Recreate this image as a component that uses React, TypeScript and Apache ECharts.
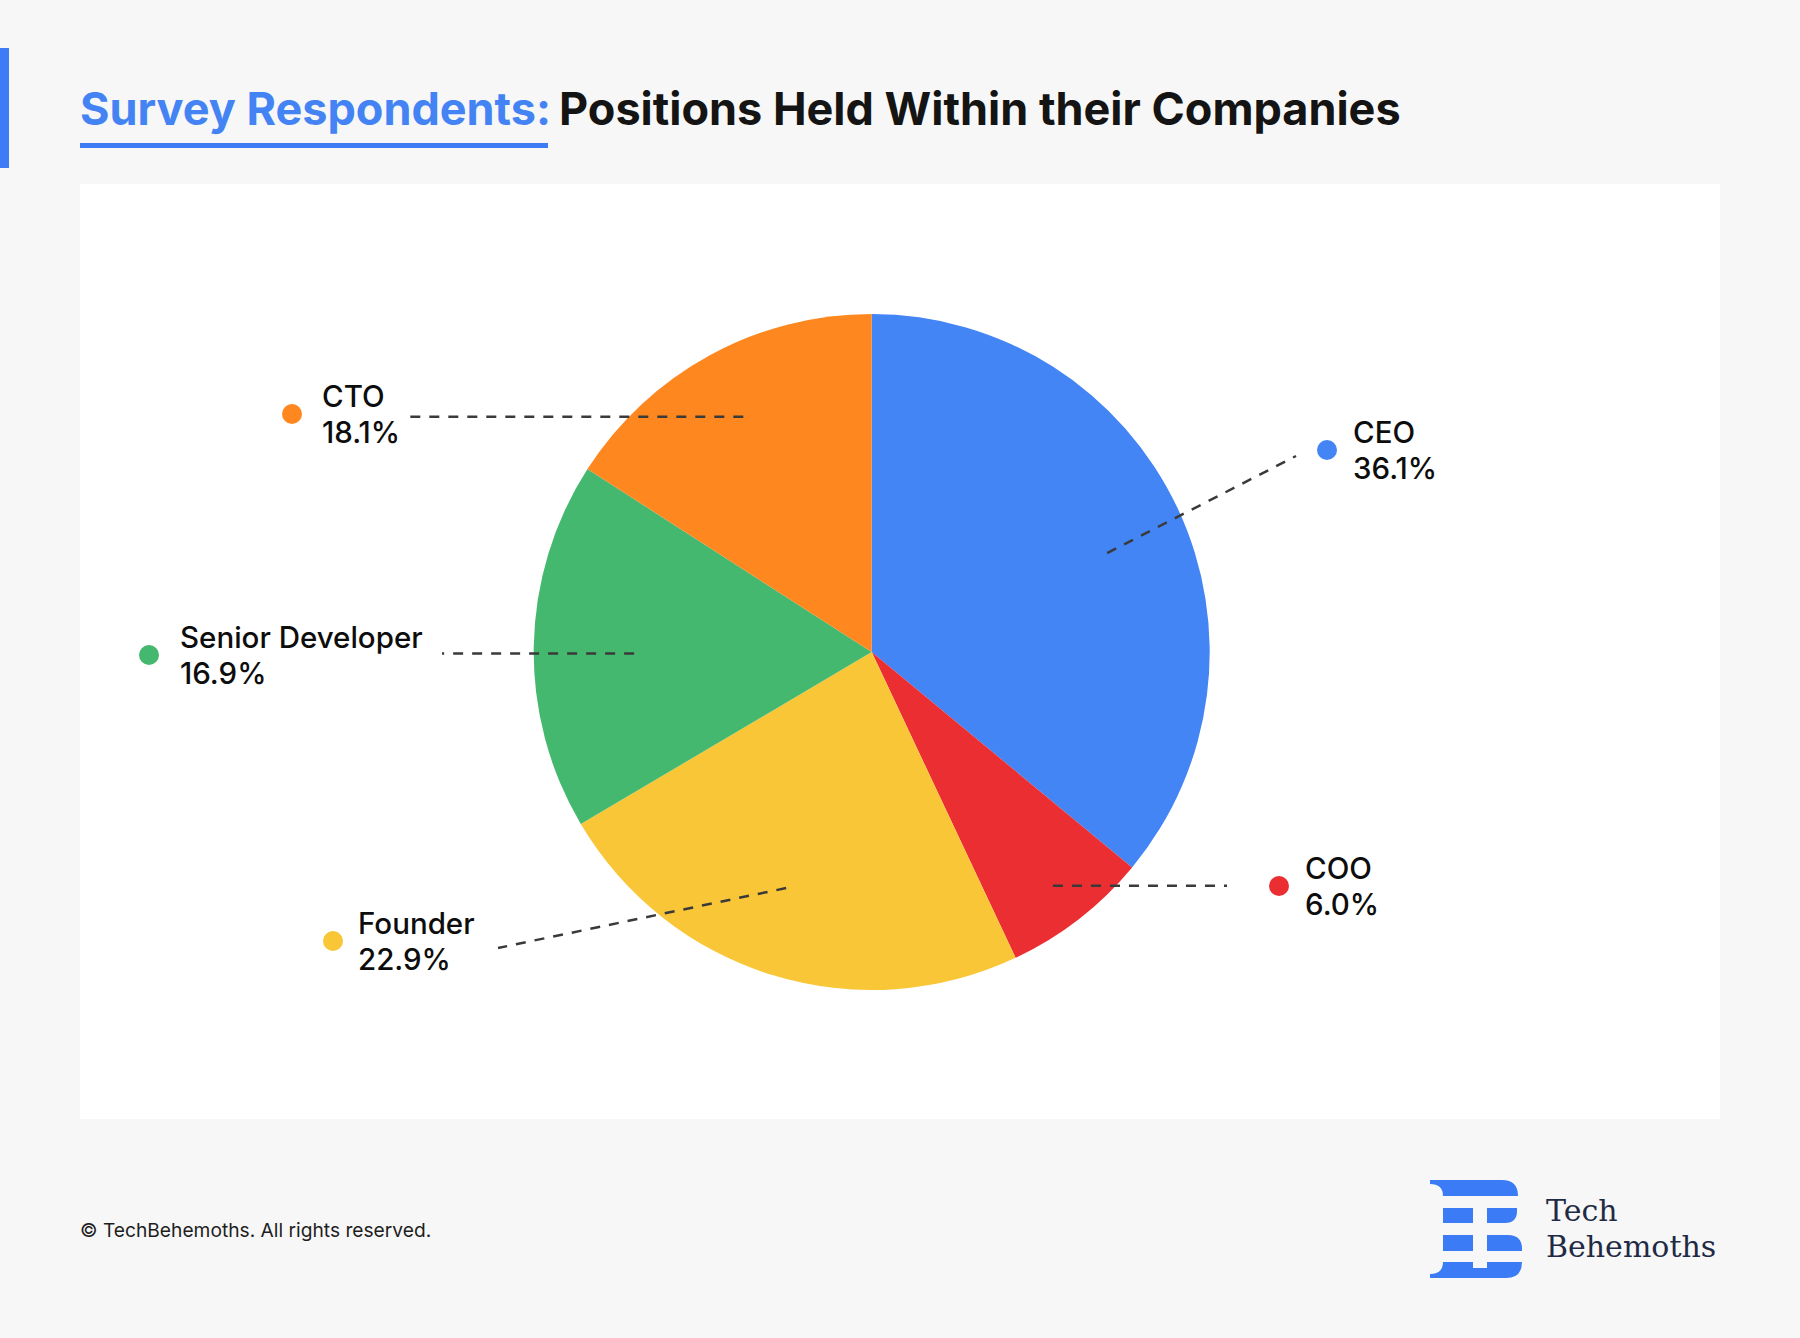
import React, { useEffect, useRef } from 'react';
import * as echarts from 'echarts';

// ---------------- data ----------------
const categories = ['CEO', 'COO', 'Founder', 'Senior Developer', 'CTO'];
// shares as drawn
const sliceShares = [36.0, 7.0, 23.5, 17.6, 15.9];
// percentages as printed in the labels
const printedPercents = [36.1, 6.0, 22.9, 16.9, 18.1];
const sliceColors = ['#4385F5', '#EA2E31', '#F9C638', '#45B86F', '#FE871F'];

const titleLead = 'Survey Respondents:';
const titleRest = 'Positions Held Within their Companies';
const footerText = '\u00A9 TechBehemoths. All rights reserved.';
const logoWords = ['Tech', 'Behemoths'];

// ---------------- layout (not data) ----------------
const CX = 871.7;
const CY = 652;
const R = 338;

type Placement = {
  textX: number; cy: number; dotX: number; k: number;
  adx: number; ady: number; endX: number; endY: number | null;
};
const labelPlacement: Placement[] = [
  { textX: 1353, cy: 450, dotX: 1327, k: 0.757, adx: 4, ady: 10, endX: 1296, endY: 456 },
  { textX: 1305, cy: 886, dotX: 1279, k: 0.875, adx: 0, ady: 0, endX: 1227, endY: null },
  { textX: 358, cy: 941, dotX: 333, k: 0.74, adx: -12, ady: -3, endX: 498, endY: 948 },
  { textX: 180, cy: 655, dotX: 149, k: 0.703, adx: 0, ady: 6, endX: 442, endY: null },
  { textX: 322, cy: 414, dotX: 292, k: 0.793, adx: 0, ady: 0, endX: 404, endY: null },
];

const LOGO_D =
  'M0 0 H72 Q88 0 88 16 H13 Q13 4 0 4 Z ' +
  'M13 28 H43 V43 H13 Z M57 28 H87 V31 Q87 43 75 43 H57 Z ' +
  'M13 55 H43 V71 H13 Z M57 55 H78 Q92 55 92 69 V71 H57 Z ' +
  'M0 98 H76 Q92 98 92 82 H57 V88 H43 V82 H13 Q13 94 0 94 Z';

let logoRegistered = false;
function ensureLogo() {
  if (logoRegistered) return;
  echarts.graphic.registerShape('tbLogo', echarts.graphic.extendPath(LOGO_D, {}) as any);
  logoRegistered = true;
}

function edgePoint(params: any, i: number): number[] {
  const p = params.labelLinePoints && params.labelLinePoints[0];
  if (p) return [p[0], p[1]];
  const total = sliceShares.reduce((a, b) => a + b, 0);
  let acc = 0;
  for (let j = 0; j < i; j++) acc += sliceShares[j];
  const mid = ((acc + sliceShares[i] / 2) / total) * Math.PI * 2;
  return [CX + R * Math.sin(mid), CY - R * Math.cos(mid)];
}

export default function App() {
  const ref = useRef<HTMLDivElement>(null);

  useEffect(() => {
    document.body.style.margin = '0';
    ensureLogo();
    if (!ref.current) return;
    const chart = echarts.init(ref.current, null, { renderer: 'svg' });

    const labelFont = 'Inter';
    const labelSize = 29.5;
    const dotRich: Record<string, any> = {};
    sliceColors.forEach((c, i) => {
      dotRich['d' + i] = { width: 20, height: 20, borderRadius: 10, backgroundColor: c };
    });

    const option: any = {
      animation: false,
      backgroundColor: '#F7F7F7',
      graphic: [
        { type: 'rect', z: 0, shape: { x: 80, y: 184, width: 1640, height: 935 }, style: { fill: '#FFFFFF' } },
        { type: 'rect', z: 1, shape: { x: 0, y: 48, width: 9, height: 120 }, style: { fill: '#3D7CF6' } },
        {
          type: 'text', z: 1, x: 80, y: 108,
          style: { text: titleLead, fontFamily: 'Inter', fontWeight: 700, fontSize: 45, fill: '#4383F3', verticalAlign: 'middle', align: 'left' },
        },
        { type: 'rect', z: 1, shape: { x: 80, y: 143, width: 468, height: 5 }, style: { fill: '#3D7CF6' } },
        {
          type: 'text', z: 1, x: 559, y: 108,
          style: { text: titleRest, fontFamily: 'Inter', fontWeight: 700, fontSize: 45, fill: '#141414', verticalAlign: 'middle', align: 'left' },
        },
        {
          type: 'text', z: 1, x: 80, y: 1230,
          style: { text: footerText, fontFamily: 'Inter', fontSize: 19.2, fill: '#1E1E1E', verticalAlign: 'middle', align: 'left' },
        },
        { type: 'tbLogo', z: 1, x: 1430, y: 1180, scaleX: 1, scaleY: 1, style: { fill: '#3B7BF6' } },
        {
          type: 'text', z: 1, x: 1546, y: 1210,
          style: { text: logoWords[0], fontFamily: 'DejaVu Serif', fontSize: 30, fill: '#1F2A44', verticalAlign: 'middle', align: 'left' },
        },
        {
          type: 'text', z: 1, x: 1546, y: 1246,
          style: { text: logoWords[1], fontFamily: 'DejaVu Serif', fontSize: 30, fill: '#1F2A44', verticalAlign: 'middle', align: 'left' },
        },
      ],
      series: [
        {
          type: 'pie',
          z: 2,
          center: [CX, CY],
          radius: [0, R],
          startAngle: 90,
          clockwise: true,
          avoidLabelOverlap: false,
          silent: true,
          emphasis: { disabled: true },
          data: categories.map((name, i) => ({ name, value: sliceShares[i], itemStyle: { color: sliceColors[i] } })),
          label: {
            show: true,
            position: 'outside',
            formatter: (p: any) => `{n|${p.name}}\n{v|${printedPercents[p.dataIndex].toFixed(1)}%}`,
            rich: {
              n: { fontFamily: labelFont, fontWeight: 500, fontSize: labelSize, lineHeight: 36, color: '#0D0D0D' },
              v: { fontFamily: labelFont, fontWeight: 500, fontSize: labelSize, lineHeight: 36, color: '#0D0D0D' },
            },
          },
          labelLine: { show: false },
          labelLayout: (p: any) => {
            const L = labelPlacement[p.dataIndex];
            return { x: L.textX, y: L.cy, align: 'left', verticalAlign: 'middle' };
          },
        },
        {
          type: 'pie',
          z: 3,
          center: [CX, CY],
          radius: [0, R],
          startAngle: 90,
          clockwise: true,
          avoidLabelOverlap: false,
          silent: true,
          emphasis: { disabled: true },
          itemStyle: { color: 'rgba(0,0,0,0)', borderWidth: 0 },
          data: categories.map((name, i) => ({ name, value: sliceShares[i] })),
          label: {
            show: true,
            position: 'outside',
            formatter: (p: any) => `{d${p.dataIndex}|}`,
            rich: dotRich,
          },
          labelLine: {
            show: true,
            smooth: false,
            lineStyle: { color: '#3A3A3A', width: 2.5, type: [10, 9] },
          },
          labelLayout: (p: any) => {
            const i = p.dataIndex;
            const L = labelPlacement[i];
            const e = edgePoint(p, i);
            const ax = CX + (e[0] - CX) * L.k + L.adx;
            const ay = CY + (e[1] - CY) * L.k + L.ady;
            const ey = L.endY == null ? ay : L.endY;
            return {
              x: L.dotX,
              y: L.cy,
              align: 'center',
              verticalAlign: 'middle',
              labelLinePoints: [[ax, ay], [L.endX, ey]],
            };
          },
        },
      ],
    };

    chart.setOption(option);
    return () => chart.dispose();
  }, []);

  return <div ref={ref} style={{ width: 1800, height: 1338 }} />;
}
